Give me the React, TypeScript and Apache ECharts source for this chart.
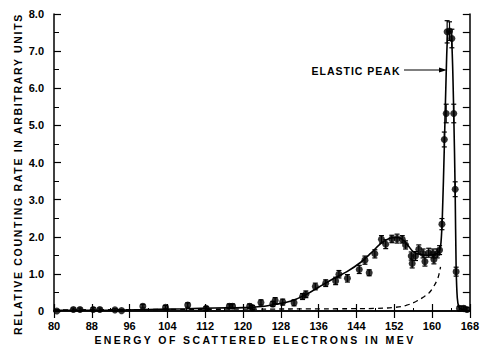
import React, { useEffect, useRef } from "react";
import * as echarts from "echarts";

// Measured data points (energy in MeV, relative counting rate)
const pointEnergy = [80.6, 84.1, 85.5, 88.3, 89.7, 92.9, 94.3, 98.8, 103.6, 108.3, 112.2, 117.1, 117.8, 121.4, 122.0, 123.8, 126.3, 126.8, 128.4, 130.8, 132.6, 133.3, 135.3, 137.5, 139.6, 140.3, 142.1, 144.6, 145.8, 146.7, 147.9, 149.3, 150.2, 151.5, 152.6, 153.7, 154.4, 155.6, 155.8, 156.5, 157.2, 158.1, 158.5, 159.3, 160.2, 160.4, 161.1, 161.6, 162.1, 162.6, 163.0, 163.2, 163.7, 164.2, 164.6, 164.9, 165.1, 165.8, 166.7, 167.4];
const pointRate = [0.0, 0.04, 0.04, 0.04, 0.04, 0.03, 0.01, 0.13, 0.1, 0.16, 0.07, 0.13, 0.13, 0.13, 0.09, 0.23, 0.19, 0.28, 0.24, 0.22, 0.39, 0.45, 0.66, 0.75, 0.81, 0.99, 0.88, 1.12, 1.37, 1.03, 1.54, 1.93, 1.8, 1.94, 1.95, 1.93, 1.78, 1.48, 1.28, 1.48, 1.66, 1.55, 1.33, 1.57, 1.55, 1.39, 1.55, 1.64, 2.34, 4.62, 5.32, 7.52, 7.54, 7.34, 5.32, 3.28, 1.06, 0.07, 0.07, 0.04];
const pointError = [0.03, 0.04, 0.04, 0.05, 0.04, 0.03, 0.03, 0.05, 0.05, 0.06, 0.05, 0.06, 0.06, 0.06, 0.06, 0.07, 0.07, 0.08, 0.08, 0.08, 0.08, 0.09, 0.09, 0.09, 0.1, 0.1, 0.1, 0.11, 0.11, 0.08, 0.11, 0.1, 0.12, 0.1, 0.12, 0.1, 0.11, 0.11, 0.12, 0.12, 0.12, 0.12, 0.12, 0.12, 0.12, 0.12, 0.12, 0.12, 0.15, 0.2, 0.25, 0.3, 0.25, 0.25, 0.25, 0.2, 0.12, 0.06, 0.06, 0.05];

// Smooth fitted curve (solid)
const fitEnergy = [80, 90, 100, 108, 114, 120, 124, 127, 130, 133, 136, 139, 142, 145, 147, 149, 150.5, 152, 153.5, 155, 156, 157.5, 159, 160.5, 161.5, 161.9, 162.2, 162.6, 163.0, 163.35, 163.8, 164.2, 164.6, 164.9, 165.1, 165.35, 165.7, 166.3, 167, 168];
const fitRate = [0.02, 0.02, 0.04, 0.06, 0.08, 0.09, 0.12, 0.18, 0.26, 0.42, 0.64, 0.86, 1.06, 1.32, 1.55, 1.8, 1.93, 1.98, 1.95, 1.75, 1.6, 1.52, 1.5, 1.52, 1.6, 1.85, 2.6, 4.4, 6.4, 7.5, 7.55, 7.2, 5.3, 3.2, 1.2, 0.35, 0.1, 0.04, 0.02, 0.01];

// Radiative tail curve (dashed)
const tailEnergy = [80, 100, 120, 140, 148, 152.3, 154.5, 156.5, 158, 159.3, 160.3, 161.1, 161.5, 161.8];
const tailRate = [0.03, 0.04, 0.05, 0.06, 0.07, 0.1, 0.15, 0.25, 0.36, 0.48, 0.65, 0.84, 1.0, 1.19];

const xTicks = { min: 80, max: 168, step: 8 };
const yTicks = { min: 0, max: 8, step: 1 };

const xTitle = "ENERGY OF SCATTERED ELECTRONS IN MEV";
const yTitle = "RELATIVE COUNTING RATE IN ARBITRARY UNITS";
const peakLabel = "ELASTIC PEAK";

const FONT = "Liberation Sans";

export default function App() {
  const ref = useRef<HTMLDivElement>(null);
  useEffect(() => {
    document.body.style.margin = "0";
    const chart = echarts.init(ref.current!, undefined, { renderer: "svg" });
    const pts = pointEnergy.map((x, i) => [x, pointRate[i]]);
    const errs = pointEnergy.map((x, i) => [x, pointRate[i], pointError[i]]);
    const fit = fitEnergy.map((x, i) => [x, fitRate[i]]);
    const tail = tailEnergy.map((x, i) => [x, tailRate[i]]);
    const axisLine = { show: true, lineStyle: { color: "#000", width: 1.5 } };
    const labelStyle = { color: "#000", fontSize: 11, fontFamily: FONT, fontWeight: "bold" as const };
    const titleStyle = { fontFamily: FONT, fontSize: 10.5, fontWeight: "bold", fill: "#000" };
    chart.setOption({
      animation: false,
      backgroundColor: "#fff",
      grid: { left: 54, right: 11, top: 14, bottom: 35 },
      xAxis: [
        {
          type: "value",
          position: "bottom",
          min: xTicks.min,
          max: xTicks.max,
          interval: xTicks.step,
          axisLine,
          axisTick: { inside: true, length: 7, lineStyle: { color: "#000", width: 1.2 } },
          minorTick: { show: true, splitNumber: 2, length: 3, lineStyle: { color: "#000", width: 1 } },
          splitLine: { show: false },
          axisLabel: { ...labelStyle, margin: 9 },
        },
        {
          type: "value",
          position: "top",
          min: xTicks.min,
          max: xTicks.max,
          interval: xTicks.step,
          axisLine,
          axisTick: { inside: true, length: 7, lineStyle: { color: "#000", width: 1.2 } },
          splitLine: { show: false },
          axisLabel: { show: false },
        },
      ],
      yAxis: [
        {
          type: "value",
          position: "left",
          min: yTicks.min,
          max: yTicks.max,
          interval: yTicks.step,
          axisLine,
          axisTick: { inside: true, length: 7, lineStyle: { color: "#000", width: 1.2 } },
          minorTick: { show: true, splitNumber: 2, length: 5, lineStyle: { color: "#000", width: 1 } },
          splitLine: { show: false },
          axisLabel: {
            ...labelStyle,
            margin: 10,
            formatter: (v: number) => (v === 0 ? "0" : v.toFixed(1)),
          },
        },
        {
          type: "value",
          position: "right",
          min: yTicks.min,
          max: yTicks.max,
          interval: yTicks.step / 2,
          axisLine,
          axisTick: { inside: true, length: 7, lineStyle: { color: "#000", width: 1.2 } },
          splitLine: { show: false },
          axisLabel: { show: false },
        },
      ],
      series: [
        {
          type: "line",
          data: tail,
          smooth: 0.4,
          showSymbol: false,
          symbol: "none",
          silent: true,
          lineStyle: { color: "#000", width: 1.3, type: [5, 4] },
          z: 1,
        },
        {
          type: "line",
          data: fit,
          smooth: 0.3,
          showSymbol: false,
          symbol: "none",
          silent: true,
          lineStyle: { color: "#000", width: 1.6 },
          z: 2,
        },
        {
          type: "custom",
          data: errs,
          encode: { x: 0, y: 1 },
          silent: true,
          z: 3,
          renderItem: (params: any, api: any) => {
            const x = api.value(0);
            const y = api.value(1);
            const e = api.value(2);
            const top = api.coord([x, y + e]);
            const bot = api.coord([x, Math.max(0, y - e)]);
            const w = 2.5;
            const st = { stroke: "#000", lineWidth: 1.2 };
            return {
              type: "group",
              children: [
                { type: "line", shape: { x1: top[0], y1: top[1], x2: bot[0], y2: bot[1] }, style: st },
                { type: "line", shape: { x1: top[0] - w, y1: top[1], x2: top[0] + w, y2: top[1] }, style: st },
                { type: "line", shape: { x1: bot[0] - w, y1: bot[1], x2: bot[0] + w, y2: bot[1] }, style: st },
              ],
            };
          },
        },
        {
          type: "scatter",
          data: pts,
          symbol: "circle",
          symbolSize: 7,
          silent: true,
          itemStyle: { color: "#000" },
          z: 4,
        },
      ],
      graphic: [
        {
          type: "text",
          x: 18,
          y: 174,
          rotation: Math.PI / 2,
          silent: true,
          style: { ...titleStyle, text: yTitle, align: "center", verticalAlign: "middle" },
        },
        {
          type: "text",
          x: 255,
          y: 339.5,
          silent: true,
          style: { ...titleStyle, text: xTitle, align: "center", verticalAlign: "middle" },
        },
        {
          type: "text",
          x: 356,
          y: 71,
          silent: true,
          style: { ...titleStyle, text: peakLabel, align: "center", verticalAlign: "middle" },
        },
        {
          type: "line",
          silent: true,
          shape: { x1: 404, y1: 70, x2: 441, y2: 70 },
          style: { stroke: "#000", lineWidth: 1.2 },
        },
        {
          type: "polygon",
          silent: true,
          shape: { points: [[447, 70], [439, 67.5], [439, 72.5]] },
          style: { fill: "#000" },
        },
      ],
    });
    const spacing: Record<string, string> = {
      [xTitle]: "2.4px",
      [yTitle]: "1.7px",
      [peakLabel]: "1px",
    };
    const applySpacing = () => {
      const root = ref.current;
      if (!root) return;
      root.querySelectorAll("text").forEach((t) => {
        const s = spacing[(t.textContent || "").trim()];
        if (s) t.setAttribute("letter-spacing", s);
      });
    };
    applySpacing();
    chart.on("rendered", applySpacing);
    chart.on("finished", applySpacing);
    const timer = setTimeout(applySpacing, 0);
    return () => {
      clearTimeout(timer);
      chart.dispose();
    };
  }, []);
  return <div ref={ref} style={{ width: 482, height: 346 }} />;
}
